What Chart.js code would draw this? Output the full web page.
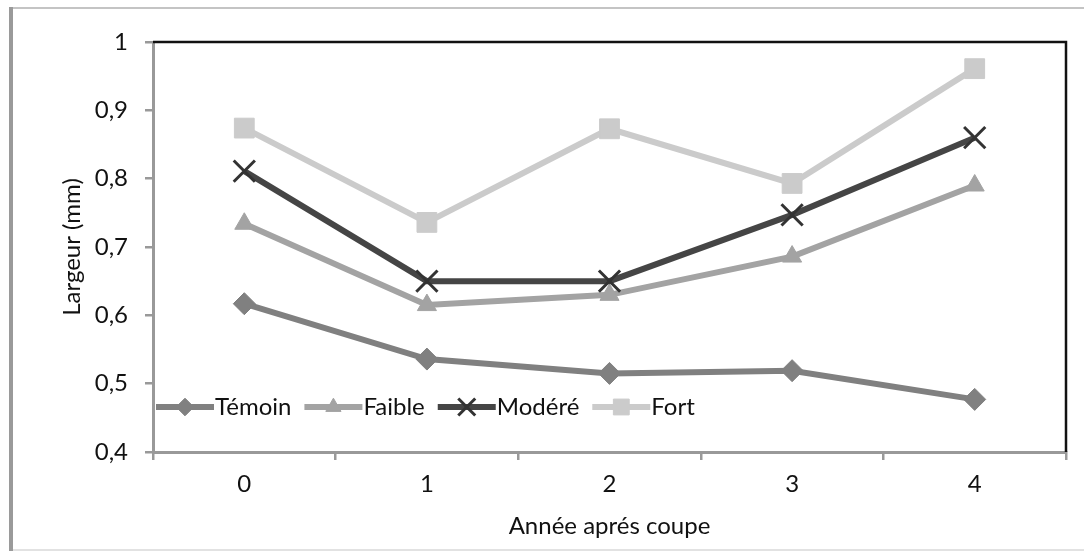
<!DOCTYPE html>
<html>
<head>
<meta charset="utf-8">
<script src="https://cdn.jsdelivr.net/npm/chart.js@4.4.1/dist/chart.umd.min.js"></script>
<style>
  html, body { margin: 0; padding: 0; background: #fff; }
  #wrap { position: absolute; left: 0; top: 0; width: 1084px; height: 554px; }
</style>
</head>
<body>
<div id="wrap"><canvas id="myChart" width="1084" height="554"></canvas></div>
<script>
const years = ['0', '1', '2', '3', '4'];
const temoin = [0.617, 0.536, 0.515, 0.519, 0.477];
const faible = [0.734, 0.615, 0.630, 0.686, 0.790];
const modere = [0.811, 0.650, 0.650, 0.747, 0.860];
const fort = [0.874, 0.736, 0.873, 0.793, 0.961];
const seriesNames = ['Témoin', 'Faible', 'Modéré', 'Fort'];
const yTicks = [0.4, 0.5, 0.6, 0.7, 0.8, 0.9, 1];

const FONT = 'Lato, "Open Sans", sans-serif';

// page frame (grey border around the whole figure)
const framePlugin = {
    id: 'frame',
    beforeDraw(chart) {
        const ctx = chart.ctx;
        ctx.save();
        ctx.fillStyle = '#fff';
        ctx.fillRect(0, 0, chart.width, chart.height);
        ctx.fillStyle = '#c4c4c4';
        ctx.fillRect(10, 7, chart.width - 10, 2);
        ctx.fillStyle = '#e2e2e2';
        ctx.fillRect(10, 549, chart.width - 10, 2);
        ctx.fillStyle = '#9a9a9a';
        ctx.fillRect(9, 7, 4, 544);
        ctx.restore();
    },
    beforeDatasetsDraw(chart) {
        // black box on top and right of the plot area
        const {ctx, chartArea} = chart;
        ctx.save();
        ctx.strokeStyle = '#111';
        ctx.lineWidth = 2.5;
        ctx.beginPath();
        ctx.moveTo(chartArea.left, chartArea.top);
        ctx.lineTo(chartArea.right, chartArea.top);
        ctx.lineTo(chartArea.right, chartArea.bottom);
        ctx.stroke();
        ctx.restore();
    }
};

// Excel-like legend: line segment with marker, then label, inside the plot
const lineLegend = {
    id: 'lineLegend',
    afterDatasetsDraw(chart, args, opts) {
        const ctx = chart.ctx;
        let x = opts.x;
        const y = opts.y;
        ctx.save();
        ctx.font = opts.fontSize + 'px ' + FONT;
        ctx.textBaseline = 'middle';
        chart.data.datasets.forEach((ds) => {
            ctx.strokeStyle = ds.borderColor;
            ctx.lineWidth = ds.borderWidth;
            ctx.beginPath();
            ctx.moveTo(x, y);
            ctx.lineTo(x + opts.segment, y);
            ctx.stroke();
            ctx.fillStyle = ds.pointBackgroundColor;
            ctx.strokeStyle = ds.pointBorderColor;
            ctx.lineWidth = ds.pointBorderWidth;
            Chart.helpers.drawPoint(ctx, {
                pointStyle: ds.pointStyle,
                radius: ds.pointRadius * 0.8,
                rotation: 0,
                borderWidth: ds.pointBorderWidth
            }, x + opts.segment / 2, y);
            ctx.fillStyle = '#111';
            ctx.fillText(ds.label, x + opts.segment + 1, y);
            x += opts.segment + 1 + ctx.measureText(ds.label).width + opts.gap;
        });
        ctx.restore();
    }
};

const ctx = document.getElementById('myChart').getContext('2d');
new Chart(ctx, {
    type: 'line',
    data: {
        labels: years,
        datasets: [
            {
                label: seriesNames[0],
                data: temoin,
                borderColor: '#808080',
                borderWidth: 6,
                pointStyle: 'rectRot',
                pointRadius: 11,
                pointBackgroundColor: '#808080',
                pointBorderColor: '#808080',
                pointBorderWidth: 1,
                order: 4
            },
            {
                label: seriesNames[1],
                data: faible,
                borderColor: '#a3a3a3',
                borderWidth: 6,
                pointStyle: 'triangle',
                pointRadius: 11,
                pointBackgroundColor: '#a3a3a3',
                pointBorderColor: '#a3a3a3',
                pointBorderWidth: 1,
                order: 3
            },
            {
                label: seriesNames[2],
                data: modere,
                borderColor: '#454545',
                borderWidth: 6,
                pointStyle: 'crossRot',
                pointRadius: 15,
                pointBackgroundColor: '#333',
                pointBorderColor: '#333',
                pointBorderWidth: 3,
                order: 2
            },
            {
                label: seriesNames[3],
                data: fort,
                borderColor: '#cbcbcb',
                borderWidth: 6,
                pointStyle: 'rect',
                pointRadius: 14,
                pointBackgroundColor: '#cbcbcb',
                pointBorderColor: '#cbcbcb',
                pointBorderWidth: 1,
                order: 1
            }
        ]
    },
    options: {
        responsive: false,
        animation: false,
        events: [],
        layout: { padding: { left: 0, right: 14, top: 42, bottom: 0 } },
        plugins: {
            legend: { display: false },
            tooltip: { enabled: false },
            lineLegend: { x: 156, y: 407, segment: 58, gap: 13, fontSize: 24 }
        },
        scales: {
            x: {
                type: 'category',
                offset: true,
                afterFit: (scale) => { scale.height = 102; },
                grid: { offset: true, drawOnChartArea: false, tickLength: 8, color: '#999', lineWidth: 2.5 },
                border: { color: '#999', width: 3 },
                ticks: { color: '#111', padding: 10, font: { family: FONT, size: 24 } },
                title: {
                    display: true,
                    text: 'Année aprés coupe',
                    color: '#111',
                    font: { family: FONT, size: 24 },
                    padding: { top: 0, bottom: 13 }
                }
            },
            y: {
                min: 0.4,
                max: 1,
                afterFit: (scale) => { scale.width = 153; },
                afterBuildTicks: (scale) => { scale.ticks = yTicks.map(v => ({ value: v })); },
                grid: { drawOnChartArea: false, tickLength: 8, color: '#999', lineWidth: 2.5 },
                border: { color: '#999', width: 3 },
                ticks: {
                    color: '#111',
                    padding: 17,
                    font: { family: FONT, size: 24 },
                    callback: (v) => String(Math.round(v * 10) / 10).replace('.', ',')
                },
                title: {
                    display: true,
                    text: 'Largeur (mm)',
                    color: '#111',
                    font: { family: FONT, size: 24 },
                    padding: { top: 58, bottom: 0 }
                }
            }
        }
    },
    plugins: [framePlugin, lineLegend]
});
</script>
</body>
</html>
